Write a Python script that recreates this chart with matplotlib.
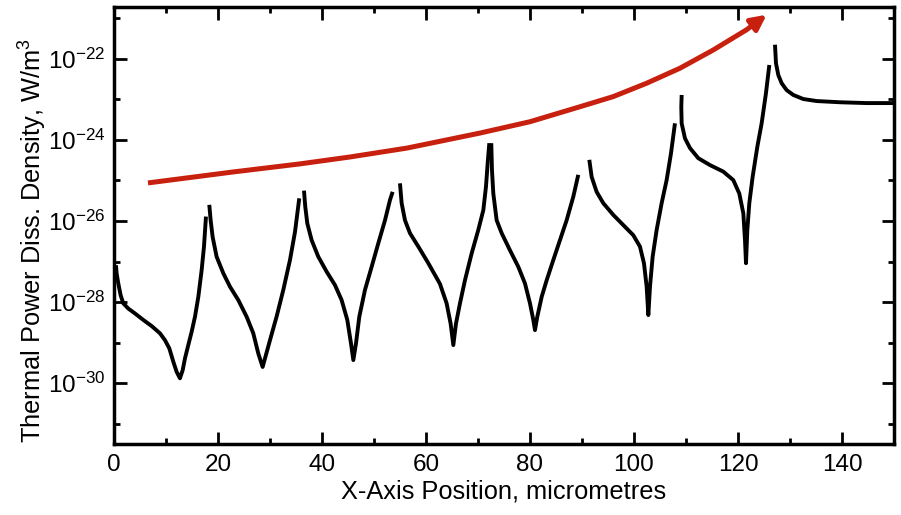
import numpy as np
import matplotlib
matplotlib.use("Agg")
import matplotlib.pyplot as plt
from matplotlib.ticker import LogLocator, NullFormatter, MultipleLocator

plt.rcParams['font.family'] = ['Liberation Sans', 'DejaVu Sans']
plt.rcParams['mathtext.default'] = 'regular'

# curve pieces, x in micrometres, y as log10 of W/m^3
seg1_x = [0.38, 0.51, 0.83, 1.28, 1.79, 2.76, 4.04, 5.64, 7.24, 8.85, 9.81, 10.64, 11.41,
          12.05, 12.69, 13.21, 13.65, 14.29, 14.94, 15.58, 16.22, 16.86, 17.31, 17.69]
seg1_y = [-27.09, -27.29, -27.54, -27.83, -28.03, -28.16, -28.28, -28.44, -28.59, -28.77, -28.94, -29.14, -29.47,
          -29.72, -29.88, -29.68, -29.39, -29.06, -28.73, -28.36, -27.87, -27.21, -26.63, -25.89]

seg2_x = [18.33, 18.59, 18.97, 19.74, 21.03, 22.31, 23.91, 25.51, 26.79, 27.76, 28.59,
          30.0, 31.29, 32.56, 33.85, 34.81, 35.63]
seg2_y = [-25.60, -25.98, -26.39, -26.88, -27.29, -27.62, -27.95, -28.36, -28.77, -29.27, -29.60,
          -28.94, -28.35, -27.70, -26.96, -26.27, -25.44]

seg3_x = [36.54, 36.79, 37.18, 38.01, 39.29, 40.9, 42.5, 43.78, 44.87, 45.58, 46.03,
          46.54, 47.18, 48.27, 49.55, 50.83, 52.12, 53.08, 53.59]
seg3_y = [-25.25, -25.65, -26.06, -26.47, -26.88, -27.25, -27.58, -27.95, -28.44, -29.02, -29.43,
          -29.02, -28.36, -27.70, -27.13, -26.55, -25.98, -25.48, -25.28]

seg4_x = [55.0, 55.32, 55.96, 56.92, 58.53, 60.45, 62.69, 63.97, 64.74, 65.26, 65.77,
          66.54, 67.5, 68.78, 70.06, 71.03, 71.54, 71.86, 72.18]
seg4_y = [-25.07, -25.56, -25.98, -26.30, -26.63, -27.04, -27.55, -28.03, -28.53, -29.06, -28.53,
          -28.03, -27.46, -26.80, -26.22, -25.73, -25.15, -24.58, -24.08]

seg5_x = [72.56, 72.69, 72.95, 73.59, 74.56, 76.15, 77.76, 79.04, 80.0, 80.64, 80.96,
          81.41, 82.25, 83.21, 84.49, 85.77, 87.05, 88.33, 89.29]
seg5_y = [-24.08, -24.74, -25.32, -25.98, -26.30, -26.72, -27.13, -27.54, -28.03, -28.44, -28.69,
          -28.36, -27.87, -27.46, -26.96, -26.47, -25.98, -25.40, -24.86]

seg6_x = [91.41, 91.86, 92.82, 94.1, 96.03, 97.95, 99.87, 101.15, 101.92, 102.44, 102.76,
          103.08, 103.59, 104.36, 105.32, 106.28, 107.12, 107.88]
seg6_y = [-24.49, -24.91, -25.28, -25.56, -25.85, -26.10, -26.35, -26.63, -27.04, -27.62, -28.32,
          -27.62, -26.88, -26.22, -25.56, -24.99, -24.33, -23.59]

seg7_x = [109.17, 109.1, 109.17, 109.81, 110.77, 112.37, 114.62, 117.17, 119.1, 120.25, 121.03,
          121.35, 121.54, 121.8, 122.18, 122.82, 123.72, 124.55, 125.38, 126.03]
seg7_y = [-22.89, -23.18, -23.59, -23.96, -24.20, -24.45, -24.62, -24.78, -24.99, -25.32, -25.81,
          -26.47, -27.04, -26.22, -25.56, -24.91, -24.17, -23.59, -22.85, -22.15]

seg8_x = [127.12, 127.31, 127.76, 128.4, 129.36, 130.64, 132.56, 135.13, 139.6, 144.7, 150.0]
seg8_y = [-21.65, -22.11, -22.40, -22.60, -22.77, -22.89, -22.99, -23.04, -23.07, -23.09, -23.09]

# red trend arrow path (last point is the tip)
arrow_x = [6.54, 22.88, 35.77, 45.38, 56.35, 70.38, 80.0, 89.62, 96.02, 102.44, 108.85, 115.25, 121.67, 125.52]
arrow_y = [-25.06, -24.79, -24.59, -24.42, -24.20, -23.83, -23.55, -23.18, -22.93, -22.60, -22.23, -21.78, -21.28, -20.91]

segments = [(seg1_x, seg1_y), (seg2_x, seg2_y), (seg3_x, seg3_y), (seg4_x, seg4_y),
            (seg5_x, seg5_y), (seg6_x, seg6_y), (seg7_x, seg7_y), (seg8_x, seg8_y)]

fig = plt.figure(figsize=(9.01, 5.15), dpi=100)
ax = fig.add_axes([0.1265, 0.1379, 0.8657, 0.8485])

for sx, sy in segments:
    ax.plot(sx, 10.0 ** np.array(sy), color='black', lw=2.8,
            solid_capstyle='butt', solid_joinstyle='round')

red = '#c8200e'
ax.plot(arrow_x[:-1], 10.0 ** np.array(arrow_y[:-1]), color=red, lw=3.6,
        solid_capstyle='butt', solid_joinstyle='round')
ax.annotate('', xy=(arrow_x[-1], 10 ** arrow_y[-1]), xytext=(arrow_x[-2], 10 ** arrow_y[-2]),
            arrowprops=dict(arrowstyle='-|>,head_length=0.9,head_width=0.45', color=red, lw=3.6,
                            shrinkA=0, shrinkB=0))

ax.set_yscale('log')
ax.set_xlim(0, 150)
ax.set_ylim(10 ** -31.5, 10 ** -20.72)

ax.xaxis.set_major_locator(MultipleLocator(20))
ax.xaxis.set_minor_locator(MultipleLocator(10))
ax.yaxis.set_major_locator(LogLocator(base=100))
ax.yaxis.set_minor_locator(LogLocator(base=100, subs=(10.0,)))
ax.yaxis.set_minor_formatter(NullFormatter())

ax.tick_params(which='both', direction='in', top=True, right=True, labelsize=17.5, width=2)
ax.tick_params(which='major', length=9)
ax.tick_params(which='minor', length=4.5)
ax.tick_params(axis='y', pad=6)
ax.tick_params(axis='x', pad=7)
for s in ax.spines.values():
    s.set_linewidth(2.5)

ax.set_xlabel('X-Axis Position, micrometres', fontsize=18.3, labelpad=3)
ax.set_ylabel('Thermal Power Diss. Density, W/m$^3$', fontsize=18.3)
ax.yaxis.set_label_coords(-0.083, 0.465)

fig.savefig('out.png', dpi=100)
